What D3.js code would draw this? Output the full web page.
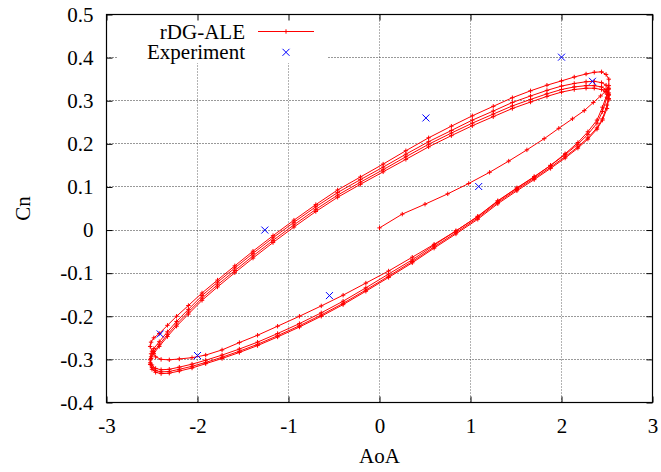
<!DOCTYPE html>
<html>
<head>
<meta charset="utf-8">
<script src="https://cdn.jsdelivr.net/npm/d3@7"></script>
<style>
  body { margin: 0; background: #fff; }
  svg text { font-family: "Liberation Serif", "Times New Roman", serif; fill: #000; }
</style>
</head>
<body>
<svg id="chart" width="661" height="472"></svg>
<script>
// Axis ticks
const xTicks = [-3, -2, -1, 0, 1, 2, 3];
const xTickLabels = ["-3", "-2", "-1", "0", "1", "2", "3"];
const yTicks = [-0.4, -0.3, -0.2, -0.1, 0, 0.1, 0.2, 0.3, 0.4, 0.5];
const yTickLabels = ["-0.4", "-0.3", "-0.2", "-0.1", "0", "0.1", "0.2", "0.3", "0.4", "0.5"];

// rDG-ALE: start-up ramp from rest to maximum incidence
const aoaRamp = [0, 0.25, 0.50, 0.75, 0.98, 1.21, 1.42, 1.62, 1.81, 1.97, 2.12, 2.25, 2.35, 2.43, 2.48, 2.51, 2.52];
const cnRamp  = [0.005, 0.037, 0.060, 0.084, 0.108, 0.134, 0.160, 0.186, 0.212, 0.236, 0.258, 0.277, 0.296, 0.311, 0.321, 0.327, 0.329];

// Incidence samples over one pitching period (downstroke, then upstroke)
const aoaCycle = [
  2.50, 2.45, 2.39, 2.29, 2.18, 2.04, 1.88, 1.70, 1.51, 1.30,
  1.08, 0.84, 0.60, 0.36, 0.10, -0.15, -0.40, -0.64, -0.88, -1.12,
  -1.34, -1.54, -1.73, -1.91, -2.06, -2.20, -2.31, -2.40, -2.46, -2.50,
  -2.52,
  -2.51, -2.48, -2.42, -2.33, -2.23, -2.10, -1.95, -1.78, -1.59, -1.39,
  -1.17, -0.94, -0.70, -0.46, -0.21, 0.04, 0.29, 0.54, 0.79, 1.02,
  1.25, 1.46, 1.66, 1.84, 2.00, 2.14, 2.27, 2.36, 2.44, 2.49,
  2.52, 2.52
];

// Normal-force coefficient for each computed period
const cnCycle1 = [
  0.315, 0.285, 0.255, 0.228, 0.203, 0.177, 0.150, 0.123, 0.097, 0.067,
  0.031, -0.002, -0.033, -0.063, -0.095, -0.123, -0.151, -0.176, -0.200, -0.223,
  -0.244, -0.261, -0.278, -0.290, -0.296, -0.299, -0.301, -0.300, -0.294, -0.281,
  -0.270,
  -0.260, -0.250, -0.240, -0.221, -0.200, -0.175, -0.146, -0.116, -0.083, -0.049,
  -0.013, 0.023, 0.059, 0.093, 0.123, 0.153, 0.184, 0.214, 0.241, 0.265,
  0.287, 0.307, 0.323, 0.336, 0.346, 0.355, 0.362, 0.366, 0.367, 0.361,
  0.350, 0.335
];
const cnCycle2 = [
  0.308, 0.275, 0.248, 0.222, 0.199, 0.175, 0.150, 0.124, 0.098, 0.068,
  0.032, -0.002, -0.035, -0.069, -0.102, -0.134, -0.165, -0.192, -0.217, -0.240,
  -0.260, -0.276, -0.290, -0.302, -0.311, -0.318, -0.323, -0.324, -0.321, -0.313,
  -0.301,
  -0.287, -0.275, -0.259, -0.236, -0.212, -0.184, -0.152, -0.121, -0.088, -0.054,
  -0.018, 0.018, 0.054, 0.087, 0.117, 0.146, 0.176, 0.205, 0.231, 0.255,
  0.276, 0.296, 0.311, 0.324, 0.334, 0.340, 0.344, 0.345, 0.342, 0.336,
  0.327, 0.313
];
const cnCycle3 = [
  0.290, 0.258, 0.237, 0.214, 0.193, 0.170, 0.146, 0.120, 0.094, 0.064,
  0.028, -0.006, -0.039, -0.073, -0.107, -0.139, -0.170, -0.197, -0.222, -0.245,
  -0.265, -0.281, -0.295, -0.307, -0.316, -0.323, -0.328, -0.329, -0.326, -0.319,
  -0.308,
  -0.294, -0.282, -0.266, -0.242, -0.218, -0.190, -0.158, -0.127, -0.094, -0.060,
  -0.024, 0.012, 0.048, 0.081, 0.111, 0.140, 0.170, 0.199, 0.225, 0.248,
  0.269, 0.288, 0.303, 0.316, 0.326, 0.332, 0.335, 0.335, 0.332, 0.326,
  0.318, 0.305
];
const cnCycle4 = [
  0.282, 0.255, 0.234, 0.211, 0.190, 0.167, 0.143, 0.117, 0.091, 0.061,
  0.025, -0.009, -0.042, -0.076, -0.110, -0.142, -0.173, -0.200, -0.225, -0.248,
  -0.268, -0.284, -0.298, -0.310, -0.320, -0.327, -0.332, -0.333, -0.330, -0.323,
  -0.312,
  -0.298, -0.286, -0.270, -0.247, -0.223, -0.195, -0.163, -0.132, -0.099, -0.065,
  -0.029, 0.007, 0.043, 0.076, 0.106, 0.135, 0.164, 0.193, 0.219, 0.242,
  0.263, 0.282, 0.297, 0.310, 0.320, 0.326, 0.329, 0.329, 0.326, 0.321,
  0.314, 0.302
];

// Experiment
const expAoa = [-2.41, -2.00, -1.26, -0.55, 0.51, 1.09, 2.00, 2.34];
const expCn  = [-0.241, -0.291, 0.000, -0.152, 0.260, 0.101, 0.401, 0.345];

const seriesNames = ["rDG-ALE", "Experiment"];

// ---------------------------------------------------------------
const svg = d3.select("#chart");
const plotLeft = 106.5, plotRight = 652.5, plotTop = 14.5, plotBottom = 402.5;
const fontFamily = "'Liberation Serif', 'Times New Roman', serif";
const fontSize = 21;

const x = d3.scaleLinear().domain([-3, 3]).range([plotLeft, plotRight]);
const y = d3.scaleLinear().domain([-0.4, 0.5]).range([plotBottom, plotTop]);

// Dotted grid
const grid = svg.append("g").attr("stroke-width", 1)
  .attr("stroke-dasharray", "1,2").attr("fill", "none");
grid.selectAll("line.gx").data(xTicks).join("line").attr("class", "gx")
  .attr("x1", d => Math.round(x(d) - 0.5) + 0.5).attr("x2", d => Math.round(x(d) - 0.5) + 0.5)
  .attr("y1", plotTop).attr("y2", plotBottom).attr("stroke", "#666");
grid.selectAll("line.gy").data(yTicks).join("line").attr("class", "gy")
  .attr("x1", plotLeft).attr("x2", plotRight)
  .attr("y1", d => Math.round(y(d) - 0.5) + 0.5).attr("y2", d => Math.round(y(d) - 0.5) + 0.5)
  .attr("stroke", "#333");

// Opaque key background
svg.append("rect").attr("x", 117).attr("y", 15).attr("width", 210).attr("height", 48).attr("fill", "#fff");

// rDG-ALE series
const rdgAoa = aoaRamp.concat(aoaCycle, aoaCycle, aoaCycle, aoaCycle);
const rdgCn  = cnRamp.concat(cnCycle1, cnCycle2, cnCycle3, cnCycle4);
const rdg = rdgAoa.map((a, i) => [a, rdgCn[i]]);

const red = "#ff0000", blue = "#0000ff";
svg.append("path").datum(rdg)
  .attr("fill", "none").attr("stroke", red).attr("stroke-width", 1)
  .attr("d", d3.line().x(d => x(d[0])).y(d => y(d[1])));

const plus = (cx, cy, s) => `M${cx - s},${cy}h${2 * s}M${cx},${cy - s}v${2 * s}`;
const cross = (cx, cy, s) => `M${cx - s},${cy - s}l${2 * s},${2 * s}M${cx - s},${cy + s}l${2 * s},${-2 * s}`;

svg.append("path")
  .attr("fill", "none").attr("stroke", red).attr("stroke-width", 1)
  .attr("d", rdg.map(d => plus(x(d[0]), y(d[1]), 2.2)).join(""));

// Experiment series
const exp = expAoa.map((a, i) => [a, expCn[i]]);
svg.append("path")
  .attr("fill", "none").attr("stroke", blue).attr("stroke-width", 1)
  .attr("d", exp.map(d => cross(x(d[0]), y(d[1]), 3.5)).join(""));

// Border
svg.append("rect").attr("x", plotLeft).attr("y", plotTop)
  .attr("width", plotRight - plotLeft).attr("height", plotBottom - plotTop)
  .attr("fill", "none").attr("stroke", "#000").attr("stroke-width", 1.2);

// Axes with inward ticks on all four sides
const styleAxis = g => {
  g.attr("font-family", fontFamily).attr("font-size", fontSize);
  g.select(".domain").remove();
  g.selectAll(".tick line").attr("stroke", "#000").attr("stroke-width", 1);
  g.selectAll(".tick text").attr("font-family", fontFamily).attr("font-size", fontSize);
};
svg.append("g").attr("transform", `translate(0,${plotBottom})`)
  .call(d3.axisBottom(x).tickValues(xTicks).tickSize(-6).tickPadding(16)
    .tickFormat((d, i) => xTickLabels[i]))
  .call(styleAxis);
svg.append("g").attr("transform", `translate(${plotLeft},0)`)
  .call(d3.axisLeft(y).tickValues(yTicks).tickSize(-6).tickPadding(13)
    .tickFormat((d, i) => yTickLabels[i]))
  .call(styleAxis);
svg.append("g").attr("transform", `translate(0,${plotTop})`)
  .call(d3.axisTop(x).tickValues(xTicks).tickSize(-6).tickFormat(""))
  .call(styleAxis);
svg.append("g").attr("transform", `translate(${plotRight},0)`)
  .call(d3.axisRight(y).tickValues(yTicks).tickSize(-6).tickFormat(""))
  .call(styleAxis);

// Axis titles
svg.append("text").attr("x", (plotLeft + plotRight) / 2).attr("y", 462.5)
  .attr("text-anchor", "middle").attr("font-family", fontFamily).attr("font-size", fontSize).text("AoA");
svg.append("text").attr("transform", `translate(30,${(plotTop + plotBottom) / 2}) rotate(-90)`)
  .attr("text-anchor", "middle").attr("font-family", fontFamily).attr("font-size", fontSize).text("Cn");

// Key
const key = svg.append("g").attr("font-family", fontFamily).attr("font-size", fontSize);
key.append("text").attr("x", 245).attr("y", 38.5).attr("text-anchor", "end").text(seriesNames[0]);
key.append("line").attr("x1", 258).attr("x2", 314).attr("y1", 31.5).attr("y2", 31.5)
  .attr("stroke", red).attr("stroke-width", 1);
key.append("path").attr("fill", "none").attr("stroke", red).attr("d", plus(286, 31.5, 2.2));
key.append("text").attr("x", 245).attr("y", 59).attr("text-anchor", "end").text(seriesNames[1]);
key.append("path").attr("fill", "none").attr("stroke", blue).attr("d", cross(286, 52.3, 3.5));
</script>
</body>
</html>
